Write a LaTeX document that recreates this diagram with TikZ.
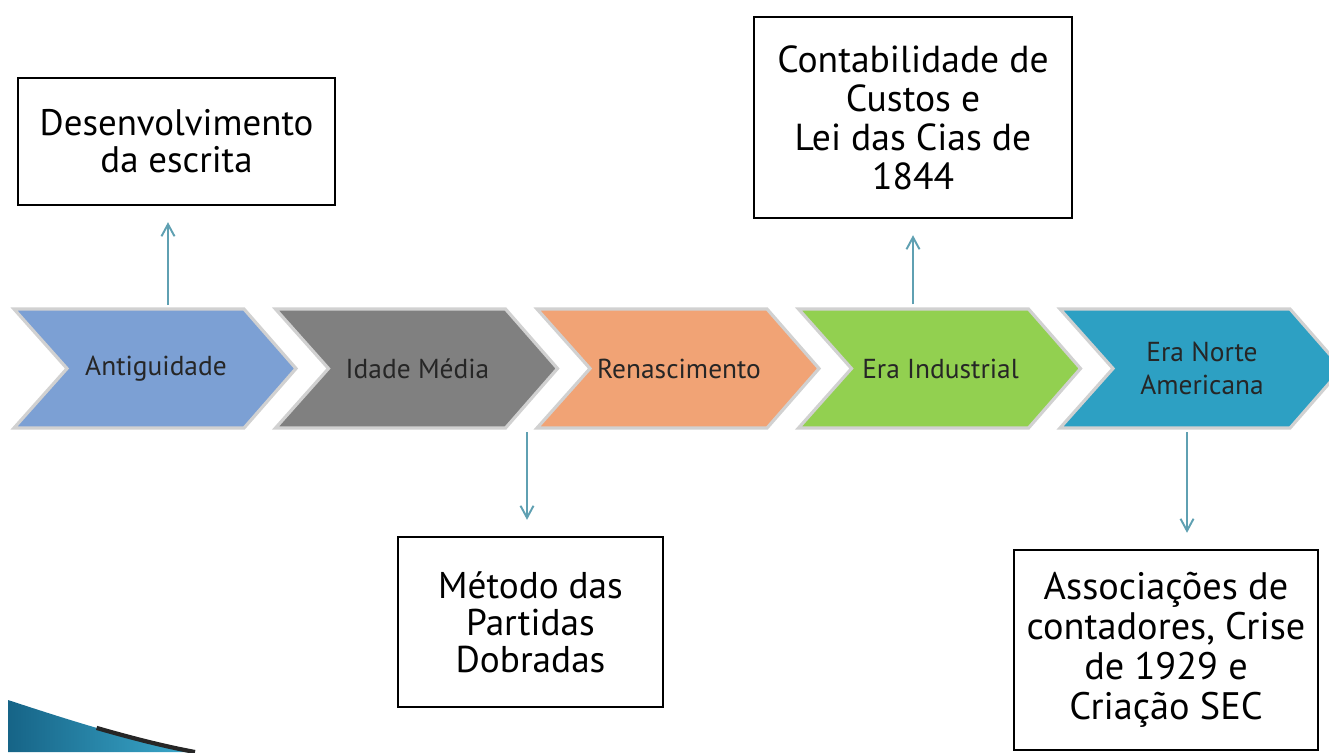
\documentclass[tikz,border=0pt]{standalone}
\usepackage{fontspec}
\setmainfont{PT Sans}
\usetikzlibrary{arrows.meta}

\definecolor{antiblue}{RGB}{124,160,212}
\definecolor{midgray}{RGB}{128,128,128}
\definecolor{renorange}{RGB}{241,163,117}
\definecolor{indgreen}{RGB}{146,208,80}
\definecolor{nateal}{RGB}{45,160,195}
\definecolor{arrteal}{RGB}{95,160,178}
\definecolor{swdark}{RGB}{22,100,135}
\definecolor{swlight}{RGB}{60,170,205}

\begin{document}
\begin{tikzpicture}[
		myline/.style={draw=black, line width=0.7pt},
		box/.style={myline, fill=white, align=center, inner sep=0pt},
		chev/.style={draw=black!18, line width=0.9pt},
		era/.style={minimum height=1.19cm, align=center, inner sep=0pt, font=\fontsize{7.8}{9.4}\selectfont, text=black!85},
		arr/.style={draw=arrteal, line width=0.55pt, -{Straight Barb[length=1.2mm, width=1.3mm]}, shorten <=0.4mm, shorten >=1.6mm}]
		
		\useasboundingbox (0,0) rectangle (13.29,7.52);
		\clip (0,0) rectangle (13.29,7.52);
		\fill[white] (0,0) rectangle (13.29,7.52);
		
		% timeline
		\draw[chev, fill=antiblue]  (0.14,4.43)--(2.44,4.43)--(2.96,3.835)--(2.44,3.24)--(0.14,3.24)--(0.67,3.835)--cycle;
		\draw[chev, fill=midgray]   (2.755,4.43)--(5.055,4.43)--(5.575,3.835)--(5.055,3.24)--(2.755,3.24)--(3.285,3.835)--cycle;
		\draw[chev, fill=renorange] (5.37,4.43)--(7.67,4.43)--(8.19,3.835)--(7.67,3.24)--(5.37,3.24)--(5.90,3.835)--cycle;
		\draw[chev, fill=indgreen]  (7.985,4.43)--(10.285,4.43)--(10.805,3.835)--(10.285,3.24)--(7.985,3.24)--(8.515,3.835)--cycle;
		\draw[chev, fill=nateal]    (10.60,4.43)--(12.90,4.43)--(13.42,3.835)--(12.90,3.24)--(10.60,3.24)--(11.13,3.835)--cycle;
		
		\node[era] at (1.56,3.835)  (antig)  {Antiguidade};
		\node[era] at (4.175,3.835) (idade)  {Idade Média};
		\node[era] at (6.79,3.835)  (renasc) {Renascimento};
		\node[era] at (9.405,3.835) (indus)  {Era Industrial};
		\node[era] at (12.02,3.835) (norte)  {Era Norte\\Americana};
		
		% boxes
		\node[box, minimum width=3.17cm, minimum height=1.27cm, font=\fontsize{10.5}{10.5}\selectfont] at (1.765,6.105) (escrita) {Desenvolvimento\\da escrita};
		\node[box, minimum width=3.18cm, minimum height=2.01cm, font=\fontsize{10.7}{11.1}\selectfont] at (9.13,6.345) (custos) {Contabilidade de\\Custos e\\Lei das Cias de\\1844};
		\node[box, minimum width=2.65cm, minimum height=1.70cm, font=\fontsize{10.6}{10.5}\selectfont] at (5.305,1.30) (partidas) {Método das\\Partidas\\Dobradas};
		\node[box, minimum width=3.04cm, minimum height=2.00cm, font=\fontsize{10.9}{11.4}\selectfont] at (11.66,1.02) (assoc) {Associações de\\contadores, Crise\\de 1929 e\\Criação SEC};
		
		\coordinate (a1) at (1.68,4.43);
		\coordinate (a3) at (5.27,3.24);
		\coordinate (a4) at (11.87,3.24);
		
		\draw[arr] (a1) -- (a1 |- escrita.south);
		\draw[arr] (custos.south |- indus.north) -- (custos.south);
		\draw[arr] (a3) -- (a3 |- partidas.north);
		\draw[arr] (a4) -- (a4 |- assoc.north);
		
		% corner swoosh
		\shade[left color=swdark, right color=swlight] (0.08,0.52) .. controls (0.6,0.35) and (1.3,0.12) .. (1.95,0) -- (0.08,0) -- cycle;
		\draw[black!85, line width=1.2pt] (0.966,0.241) .. controls (1.29,0.148) and (1.625,0.06) .. (1.95,0);
	\end{tikzpicture}
\end{document}
